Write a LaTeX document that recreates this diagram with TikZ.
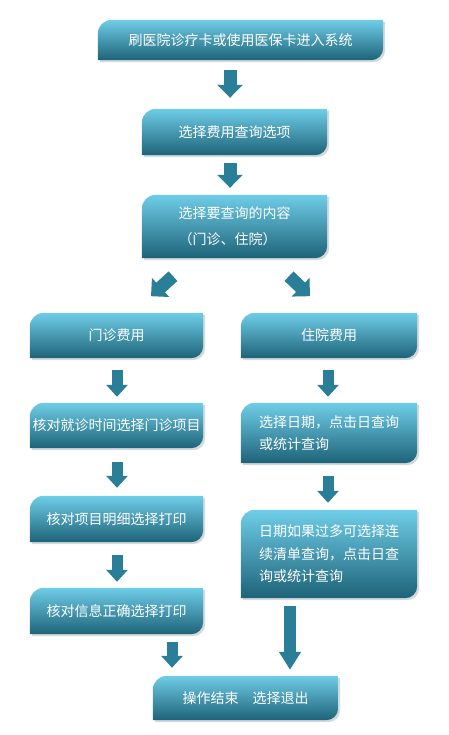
\documentclass[tikz,border=0pt]{standalone}
\usepackage{fontspec}
\newfontfamily\cjk{Noto Sans CJK SC}
\usetikzlibrary{arrows.meta,backgrounds}
\definecolor{boxtop}{HTML}{6FCDE8}
\definecolor{boxmid}{HTML}{3A9CBA}
\definecolor{boxbot}{HTML}{1D6378}
\definecolor{arrowc}{HTML}{2B7E97}
\definecolor{shadowc}{HTML}{D3DADD}
\tikzset{
  stepbox/.style={inner sep=0pt, text=white, align=center,
    font=\cjk\fontsize{14}{22.5}\selectfont},
  bigarrow/.style={draw=arrowc, line width=13pt, -{Triangle[width=25pt,length=13pt]}},
  smallarrow/.style={draw=arrowc, line width=11pt, -{Triangle[width=21pt,length=12pt]}},
  longarrow/.style={draw=arrowc, line width=12pt, -{Triangle[width=21pt,length=18pt]}},
}
\newcommand\drawbox[1]{%
  \begin{scope}[on background layer]
    \fill[shadowc, transform canvas={shift={(2pt,-2pt)}}] (#1.south west) -- ([yshift=-14pt]#1.north west)
      arc[start angle=180,end angle=90,radius=14pt] -- (#1.north east) -- ([yshift=12pt]#1.south east)
      arc[start angle=0,end angle=-90,radius=12pt] -- cycle;
    \shade[top color=boxtop, middle color=boxmid, bottom color=boxbot] (#1.south west) -- ([yshift=-14pt]#1.north west)
      arc[start angle=180,end angle=90,radius=14pt] -- (#1.north east) -- ([yshift=12pt]#1.south east)
      arc[start angle=0,end angle=-90,radius=12pt] -- cycle;
  \end{scope}}
\begin{document}
\begin{tikzpicture}[x=1pt,y=1pt]
\useasboundingbox (0,0) rectangle (448,-735);

\node[stepbox, minimum width=285pt, minimum height=40pt] (b1) at (240.5,-40) {刷医院诊疗卡或使用医保卡进入系统};
\node[stepbox, minimum width=185pt, minimum height=46pt] (b2) at (234.5,-132) {选择费用查询选项};
\node[stepbox, minimum width=185pt, minimum height=63pt, align=left,
  font=\cjk\fontsize{14}{26}\selectfont] (b3) at (234.5,-226.5) {选择要查询的内容\\（门诊、住院）};

\node[stepbox, minimum width=173pt, minimum height=45pt] (l1) at (116.5,-335.5) {门诊费用};
\node[stepbox, minimum width=176pt, minimum height=45pt] (r1) at (329,-335.5) {住院费用};

\node[stepbox, minimum width=173pt, minimum height=45pt] (l2) at (116.5,-425.5) {核对就诊时间选择门诊项目};
\node[stepbox, minimum width=176pt, minimum height=60pt, align=left] (r2) at (329,-433) {选择日期，点击日查询\\或统计查询};

\node[stepbox, minimum width=173pt, minimum height=46pt] (l3) at (116.5,-519) {核对项目明细选择打印};
\node[stepbox, minimum width=176pt, minimum height=88pt, align=left] (r3) at (329,-554) {日期如果过多可选择连\\续清单查询，点击日查\\询或统计查询};

\node[stepbox, minimum width=173pt, minimum height=46pt] (l4) at (116.5,-611) {核对信息正确选择打印};

\node[stepbox, minimum width=185pt, minimum height=44pt] (e) at (245.5,-698) {操作结束\hspace{14pt}选择退出};

\foreach \n in {b1,b2,b3,l1,r1,l2,r2,l3,r3,l4,e} {\drawbox{\n}}

\coordinate (xa) at (230,0);
\coordinate (xl) at (117,0);
\coordinate (xr) at (328,0);
\coordinate (xe1) at (172,0);
\coordinate (xe2) at (290,0);

\draw[bigarrow] ([yshift=-10pt]b1.south -| xa) -- ([yshift=11pt]b2.north -| xa);
\draw[bigarrow] ([yshift=-8pt]b2.south -| xa) -- ([yshift=7pt]b3.north -| xa);
\draw[bigarrow] ([shift={(-61.5,-18)}]b3.south) -- ([shift={(-83.5,-38)}]b3.south);
\draw[bigarrow] ([shift={(54.5,-18)}]b3.south) -- ([shift={(75.5,-38)}]b3.south);

\draw[smallarrow] ([yshift=-12pt]l1.south -| xl) -- ([yshift=6pt]l2.north -| xl);
\draw[smallarrow] ([yshift=-12pt]r1.south -| xr) -- ([yshift=6pt]r2.north -| xr);
\draw[smallarrow] ([yshift=-14pt]l2.south -| xl) -- ([yshift=8pt]l3.north -| xl);
\draw[smallarrow] ([yshift=-13pt]r2.south -| xr) -- ([yshift=7pt]r3.north -| xr);
\draw[smallarrow] ([yshift=-13pt]l3.south -| xl) -- ([yshift=6pt]l4.north -| xl);
\draw[smallarrow] ([yshift=-8pt]l4.south -| xe1) -- ([yshift=8pt]e.north -| xe1);
\draw[longarrow] ([yshift=-8pt]r3.south -| xe2) -- ([yshift=6pt]e.north -| xe2);
\end{tikzpicture}
\end{document}
